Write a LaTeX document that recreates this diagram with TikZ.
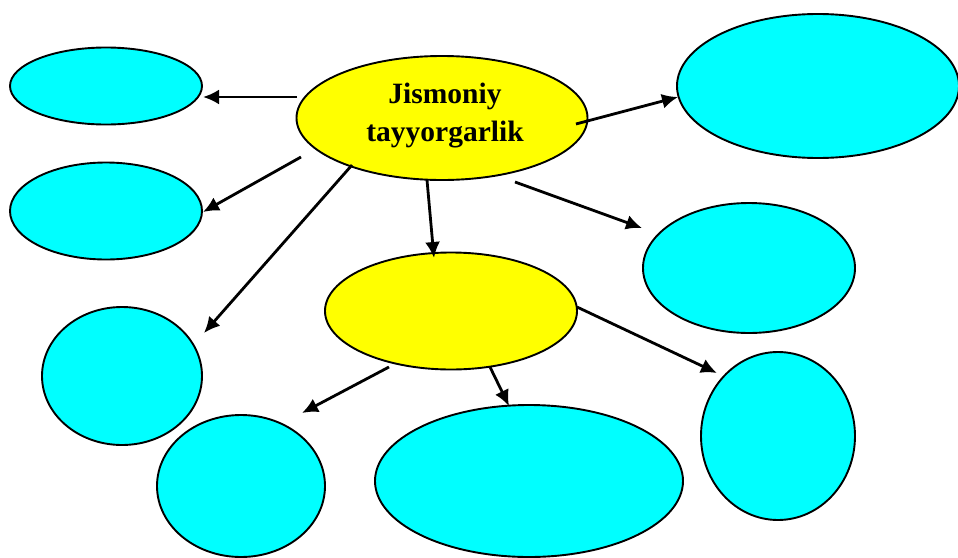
\documentclass[tikz,border=0pt]{standalone}
\usepackage{fontspec}
\setmainfont{Liberation Serif}
\usetikzlibrary{shapes.geometric,arrows.meta}
\definecolor{bubbleyellow}{RGB}{255,255,0}
\definecolor{bubblecyan}{RGB}{0,255,255}
\tikzset{
  bubble/.style={ellipse,draw=black,line width=1.9pt,inner sep=0pt},
  hub/.style={bubble,fill=bubbleyellow},
  leaf/.style={bubble,fill=bubblecyan},
  link/.style={line width=2.8pt,-{Latex[length=16pt,width=15pt]}},
}
\begin{document}
\begin{tikzpicture}[x=1pt,y=-1pt]
\useasboundingbox (0,0) rectangle (958,557);
\clip (0,0) rectangle (958,557);

% central and secondary hubs
\node[hub,minimum width=291pt,minimum height=124pt] (main) at (442,118) {};
\node[hub,minimum width=252pt,minimum height=117pt] (sub) at (451,311) {};

% outer bubbles
\node[leaf,minimum width=192pt,minimum height=77pt] (l1) at (106,86) {};
\node[leaf,minimum width=192pt,minimum height=97pt] (l2) at (106,211) {};
\node[leaf,minimum width=160pt,minimum height=138pt] (l3) at (122,376) {};
\node[leaf,minimum width=168pt,minimum height=142pt] (b1) at (241,486) {};
\node[leaf,minimum width=308pt,minimum height=152pt] (b2) at (529,481) {};
\node[leaf,minimum width=154pt,minimum height=168pt] (r3) at (778,436) {};
\node[leaf,minimum width=212pt,minimum height=130pt] (r2) at (749,268) {};
\node[leaf,minimum width=282pt,minimum height=144pt] (r1) at (818,86) {};

% title of the central hub
\node[align=center,font=\bfseries\fontsize{29.5}{38}\selectfont] (title) at (445,116)
  {Jismoniy\\tayyorgarlik};

% connector end points
\coordinate (s1) at (297,97);   \coordinate (e1) at (203,97);
\coordinate (s2) at (301,157);  \coordinate (e2) at (203,212);
\coordinate (s3) at (352,165);  \coordinate (e3) at (204,333);
\coordinate (s4) at (427,180);  \coordinate (e4) at (434,258);
\coordinate (s5) at (576,124);  \coordinate (e5) at (678,97);
\coordinate (s6) at (515,182);  \coordinate (e6) at (642,228);
\coordinate (s7) at (577,307);  \coordinate (e7) at (717,373);
\coordinate (s8) at (389,367);  \coordinate (e8) at (302,413);
\coordinate (s9) at (490,367);  \coordinate (e9) at (509,406);

\draw[link] (s1) -- (e1);
\draw[link] (s2) -- (e2);
\draw[link] (s3) -- (e3);
\draw[link] (s4) -- (e4);
\draw[link] (s5) -- (e5);
\draw[link] (s6) -- (e6);
\draw[link] (s7) -- (e7);
\draw[link] (s8) -- (e8);
\draw[link] (s9) -- (e9);
\end{tikzpicture}
\end{document}
